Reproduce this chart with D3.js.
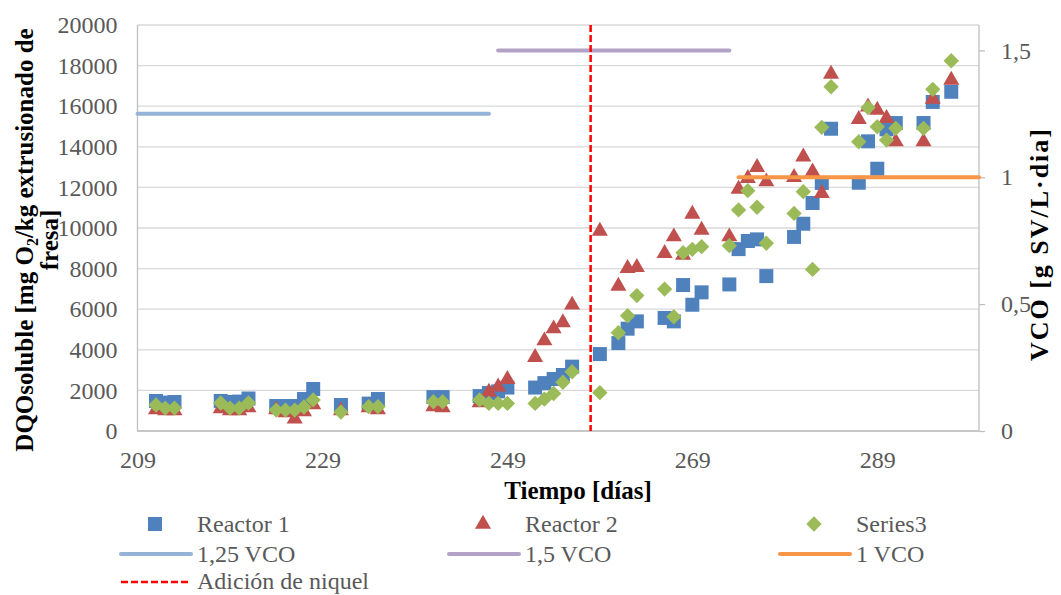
<!DOCTYPE html>
<html><head><meta charset="utf-8">
<script src="https://cdnjs.cloudflare.com/ajax/libs/d3/7.8.5/d3.min.js"></script>
<style>body{margin:0;background:#fff}svg{display:block}</style>
</head><body><svg id="c" width="1061" height="595"></svg>
<script>
// ---- data ----
const days1 = [211,212,213,218,219,220,221,224,225,226,227,228,231,234,235,241,242,246,247,248,249,252,253,254,255,256,259,261,262,263,266,267,268,269,270,273,274,275,276,277,280,281,282,283,284,287,288,289,290,291,294,295,297];
const reactor1 = [1480,1400,1430,1480,1430,1450,1600,1230,1230,1230,1575,2070,1280,1350,1575,1670,1670,1720,1870,1950,2140,2140,2360,2560,2760,3170,3790,4330,5040,5400,5570,5400,7190,6220,6830,7220,8960,9360,9440,7630,9560,10210,11230,12220,14890,12230,14270,12920,14860,15170,15170,16210,16710];
const days2 = days1;
const reactor2 = [1050,1000,1000,1100,1000,1000,1150,1050,900,600,950,1300,1000,1150,1050,1200,1150,1400,1920,2180,2550,3630,4450,5040,5340,6210,9850,7140,8010,8060,8750,9570,8670,10690,9900,9570,11920,12450,12990,12280,12500,13510,12770,11710,17580,15350,15970,15810,15400,14250,14250,16350,17290];
const days3 = days1;
const series3 = [1280,1130,1130,1380,1130,1130,1380,1030,1030,1030,1180,1530,935,1200,1200,1440,1440,1530,1360,1360,1360,1360,1570,1850,2400,2920,1890,4840,5680,6670,6990,5630,8780,8950,9080,9130,10890,11840,11020,9250,10720,11790,7960,14960,16960,14250,15930,14990,14330,14910,14910,16830,18240];
const seriesNames = ["Reactor 1","Reactor 2","Series3"];
const vcoLabels = ["1,25 VCO","1,5 VCO","1 VCO"];
const vcoValues = [1.25,1.5,1];
const vcoStart = [209,248,274];
const vcoEnd = [247,273,300];
const niquelDay = 258;
const niquelLabel = "Adición de niquel";
const xTicks = [209,229,249,269,289];
const yTicks = [0,2000,4000,6000,8000,10000,12000,14000,16000,18000,20000];
const y2Ticks = [0,0.5,1,1.5];

// ---- layout ----
const FONT = "'Liberation Serif','Times New Roman',serif";
const L = 137.5, R = 979, T = 25, B = 431;
const svg = d3.select("#c");
svg.append("rect").attr("width",1061).attr("height",595).attr("fill","#fff");
const x = d3.scaleLinear().domain([209,300]).range([L,R]);
const y = d3.scaleLinear().domain([0,20000]).range([B,T]);
const y2 = d3.scaleLinear().domain([0,1.6]).range([B,T]);

// gridlines
svg.append("g").selectAll("line").data(yTicks).join("line")
  .attr("x1",L).attr("x2",R).attr("y1",d=>y(d)).attr("y2",d=>y(d))
  .attr("stroke","#d9d9d9").attr("stroke-width",1.3);

// axes
const gl = svg.append("g").attr("transform",`translate(${L},0)`)
  .call(d3.axisLeft(y).tickValues(yTicks).tickSize(0).tickPadding(20).tickFormat(d3.format("d")));
const gr = svg.append("g").attr("transform",`translate(${R},0)`)
  .call(d3.axisRight(y2).tickValues(y2Ticks).tickSize(6).tickPadding(16).tickFormat(d=>String(d).replace(".",",")));
const gb = svg.append("g").attr("transform",`translate(0,${B})`)
  .call(d3.axisBottom(x).tickValues(xTicks).tickSize(0).tickPadding(20).tickFormat(d3.format("d")));
[gl,gr,gb].forEach(g=>{
  g.attr("font-family",FONT).attr("font-size",24);
  g.select(".domain").remove();
  g.selectAll("text").attr("fill","#595959");
  g.selectAll("line").attr("stroke","#bfbfbf").attr("stroke-width",1.3);
});
svg.append("path").attr("d",`M${L},${T}V${B}H${R}V${T}`).attr("fill","none")
  .attr("stroke","#bfbfbf").attr("stroke-width",1.3);

// markers
const colors = ["#4f81bd","#c0504d","#9bbb59"];
const sq = d3.symbol().type(d3.symbolSquare).size(196)();
const tri = d3.symbol().type(d3.symbolTriangle).size(112)();
const dia = d3.symbol().type(d3.symbolSquare).size(118)();
const sets = [[days1,reactor1,sq,0],[days2,reactor2,tri,0],[days3,series3,dia,45]];
sets.forEach(([ds,vs,p,rot],i)=>{
  svg.append("g").selectAll("path").data(ds.map((d,j)=>[d,vs[j]])).join("path")
    .attr("d",p).attr("fill",colors[i])
    .attr("transform",d=>`translate(${x(d[0])},${y(d[1])}) rotate(${rot})`);
});

// VCO lines
const lineColors = ["#95b3d7","#b3a2c7","#f79646"];
vcoValues.forEach((v,i)=>{
  svg.append("line").attr("x1",x(vcoStart[i])).attr("x2",x(vcoEnd[i]))
    .attr("y1",y2(v)).attr("y2",y2(v)).attr("stroke",lineColors[i])
    .attr("stroke-width",4).attr("stroke-linecap","round");
});
// nickel line
svg.append("line").attr("x1",x(niquelDay)).attr("x2",x(niquelDay)).attr("y1",T).attr("y2",B)
  .attr("stroke","#ff0000").attr("stroke-width",2.5).attr("stroke-dasharray","7,3");

// axis titles
const lt = svg.append("g").attr("transform","translate(0,240) rotate(-90)");
const t1 = lt.append("text").attr("y",33).attr("text-anchor","middle")
  .attr("font-family",FONT).attr("font-size",25).attr("font-weight","bold").attr("fill","#000");
t1.append("tspan").text("DQOsoluble [mg O");
t1.append("tspan").attr("font-size",16).attr("dy",5).text("2");
t1.append("tspan").attr("dy",-5).text("/kg extrusionado de");
lt.append("text").attr("y",58).attr("text-anchor","middle")
  .attr("font-family",FONT).attr("font-size",25).attr("font-weight","bold").text("fresa]");
svg.append("text").attr("transform","translate(1048,245) rotate(-90)").attr("text-anchor","middle")
  .attr("font-family",FONT).attr("font-size",26).attr("font-weight","bold")
  .attr("textLength",232).attr("lengthAdjust","spacing").text("VCO [g SV/L·dia]");
svg.append("text").attr("x",578).attr("y",499).attr("text-anchor","middle")
  .attr("font-family",FONT).attr("font-size",25).attr("font-weight","bold").text("Tiempo [días]");

// legend
const colText = [197,525,856];
const rowY = [524,554,582];
const lg = svg.append("g").attr("font-family",FONT).attr("font-size",24).attr("fill","#595959");
seriesNames.forEach((n,i)=>{
  const cx = colText[i]-42;
  lg.append("path").attr("d",[sq,tri,dia][i]).attr("fill",colors[i])
    .attr("transform",`translate(${cx},${rowY[0]}) rotate(${i==2?45:0})`);
  lg.append("text").attr("x",colText[i]).attr("y",rowY[0]+8).text(n);
});
vcoLabels.forEach((n,i)=>{
  lg.append("line").attr("x1",colText[i]-76).attr("x2",colText[i]-6).attr("y1",rowY[1]).attr("y2",rowY[1])
    .attr("stroke",lineColors[i]).attr("stroke-width",4).attr("stroke-linecap","round");
  lg.append("text").attr("x",colText[i]).attr("y",rowY[1]+8).text(n);
});
lg.append("line").attr("x1",colText[0]-76).attr("x2",colText[0]-6).attr("y1",rowY[2]).attr("y2",rowY[2])
  .attr("stroke","#ff0000").attr("stroke-width",2.5).attr("stroke-dasharray","7,3");
lg.append("text").attr("x",colText[0]).attr("y",rowY[2]+7).text(niquelLabel);
</script></body></html>
